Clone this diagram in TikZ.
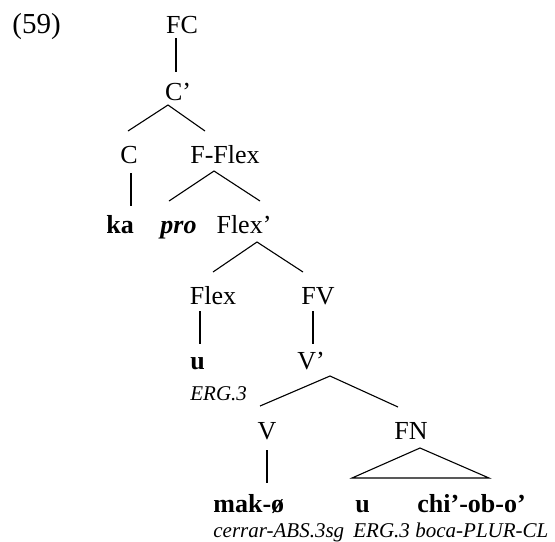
\documentclass[tikz,border=0pt]{standalone}
\usepackage{fontspec}
\setmainfont{Liberation Serif}
\tikzset{cat/.style={inner sep=0pt, anchor=base, font=\fontsize{13}{15}\selectfont},
         word/.style={cat, anchor=base west, font=\fontsize{13}{15}\selectfont\bfseries},
         gloss/.style={inner sep=0pt, anchor=base west, font=\fontsize{10.5}{12}\selectfont\itshape},
         branch/.style={line width=0.55pt}}

\begin{document}
\begin{tikzpicture}[x=0.5pt,y=-0.5pt]
  \useasboundingbox (0,0) rectangle (555,541);
  \node[cat, anchor=base west, font=\fontsize{14.5}{16}\selectfont] (ex) at (12,33) {(59)};

  % categories
  \node[cat] (fc) at (182,33) {FC};
  \node[cat] (cbar) at (178,100) {C’};
  \node[cat] (c) at (129,163) {C};
  \node[cat] (fflex) at (225,163) {F-Flex};
  \node[cat] (flexbar) at (244,233) {Flex’};
  \node[cat] (flex) at (213,304) {Flex};
  \node[cat] (fv) at (318,304) {FV};
  \node[cat] (vbar) at (311,369) {V’};
  \node[cat] (v) at (267,439) {V};
  \node[cat] (fn) at (411,439) {FN};

  % words and glosses
  \node[word] (ka) at (106,233) {ka};
  \node[word, font=\fontsize{13}{15}\selectfont\bfseries\itshape] (pro) at (160,233) {pro};
  \node[word] (u) at (190,369) {u};
  \node[gloss] (erg) at (190,400) {ERG.3};
  \node[word] (mak) at (213,512) {mak-ø};
  \node[word] (uu) at (355,512) {u};
  \node[word] (chi) at (417,512) {chi’-ob-o’};
  \node[gloss] (glmak) at (213,537) {cerrar-ABS.3sg};
  \node[gloss] (glu) at (353,537) {ERG.3};
  \node[gloss] (glchi) at (415,537) {boca-PLUR-CL};

  \draw[branch] ([shift={(-6,5)}]fc.base) -- ([shift={(-2,-28)}]cbar.base);
  \draw[branch] ([shift={(-1,-32)}]c.base) -- ([shift={(-10,5)}]cbar.base)
    -- ([shift={(-20,-32)}]fflex.base);
  \draw[branch] ([shift={(2,10)}]c.base) -- ([shift={(25,-27)}]ka.base west);
  \draw[branch] ([shift={(9,-32)}]pro.base west) -- ([shift={(-11,8)}]fflex.base)
    -- ([shift={(16,-32)}]flexbar.base);
  \draw[branch] ([shift={(0,-32)}]flex.base) -- ([shift={(13,9)}]flexbar.base)
    -- ([shift={(-15,-32)}]fv.base);
  \draw[branch] ([shift={(-13,7)}]flex.base) -- ([shift={(10,-25)}]u.base west);
  \draw[branch] ([shift={(-5,7)}]fv.base) -- ([shift={(2,-25)}]vbar.base);
  \draw[branch] ([shift={(-7,-33)}]v.base) -- ([shift={(19,7)}]vbar.base)
    -- ([shift={(-13,-32)}]fn.base);
  \draw[branch] ([shift={(0,11)}]v.base) -- ([shift={(54,-29)}]mak.base west);
  \draw[branch] ([shift={(9,9)}]fn.base) -- ([shift={(-3,-34)}]uu.base west)
    -- ([shift={(72,-34)}]chi.base west) -- cycle;
\end{tikzpicture}
\end{document}
